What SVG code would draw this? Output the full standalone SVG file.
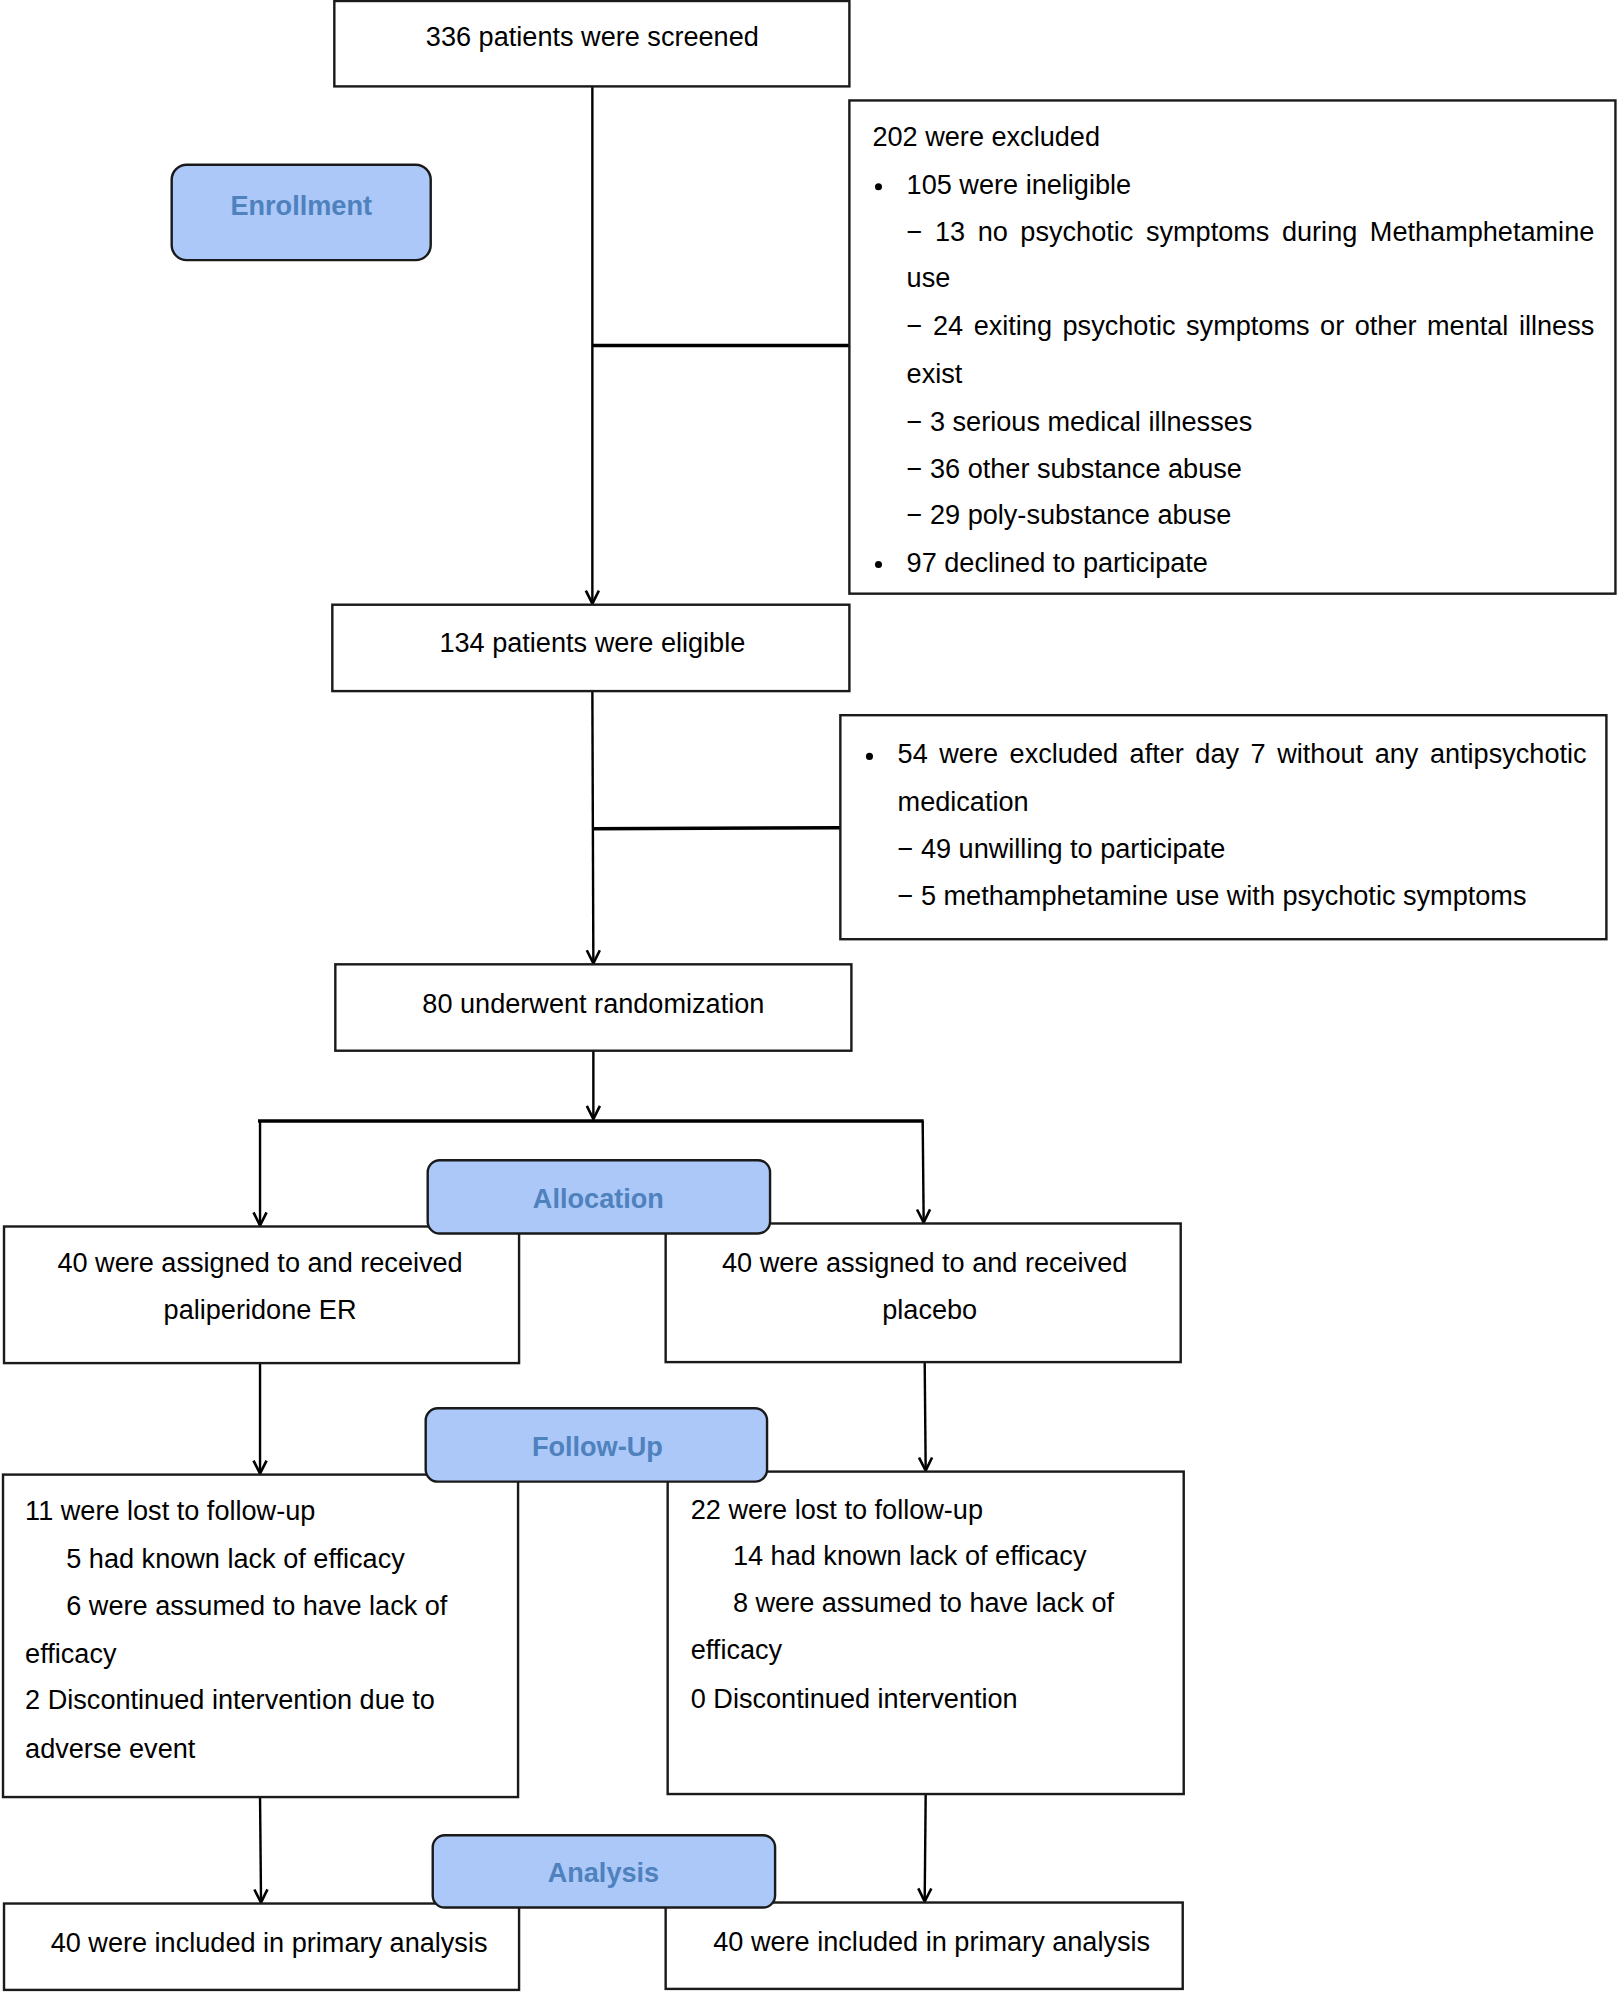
<svg xmlns="http://www.w3.org/2000/svg" width="1618" height="1992" viewBox="0 0 1618 1992">
<style>
.box{fill:#fff;stroke:#1a1a1a;stroke-width:2.4}
.lab{fill:#abc8f9;stroke:#1a1a1a;stroke-width:2.4}
.t{font-family:"Liberation Sans",Arial,sans-serif;font-size:27px;fill:#000}
.c{text-anchor:middle}
.lt{font-family:"Liberation Sans",Arial,sans-serif;font-size:27px;font-weight:bold;fill:#4f81bd;text-anchor:middle}
.ln{stroke:#000;stroke-width:2.4;fill:none}
.hl{stroke:#000;stroke-width:3.4;fill:none}
</style>
<defs>
<marker id="arr" markerUnits="userSpaceOnUse" viewBox="-16 -8 18 16" markerWidth="18" markerHeight="16" refX="0" refY="0" orient="auto">
<path d="M-13,-6.5 L0,0 L-13,6.5" fill="none" stroke="#000" stroke-width="2.6"/>
</marker>
</defs>
<rect width="1618" height="1992" fill="#fff"/>
<g transform="scale(1.004 1.0045)">
<g id="connectors">
<line class="ln" x1="590" y1="86" x2="590" y2="601" marker-end="url(#arr)"/>
<line class="hl" x1="590" y1="344" x2="846" y2="344"/>
<line class="ln" x1="590" y1="688" x2="591" y2="959" marker-end="url(#arr)"/>
<line class="hl" x1="590" y1="825" x2="837" y2="824"/>
<line class="ln" x1="591" y1="1046" x2="591" y2="1114" marker-end="url(#arr)"/>
<line class="hl" x1="257" y1="1116" x2="920" y2="1116"/>
<line class="ln" x1="259" y1="1116" x2="259" y2="1220" marker-end="url(#arr)"/>
<line class="ln" x1="919" y1="1116" x2="920" y2="1217" marker-end="url(#arr)"/>
<line class="ln" x1="259" y1="1357" x2="259" y2="1467" marker-end="url(#arr)"/>
<line class="ln" x1="921" y1="1356" x2="922" y2="1464" marker-end="url(#arr)"/>
<line class="ln" x1="259" y1="1789" x2="260" y2="1894" marker-end="url(#arr)"/>
<line class="ln" x1="922" y1="1786" x2="921" y2="1893" marker-end="url(#arr)"/>
</g>
<g id="screened">
<rect class="box" x="333" y="1" width="513" height="85"/>
<text class="t c" x="590" y="46">336 patients were screened</text>
</g>
<g id="enrollment">
<rect class="lab" x="171" y="164" width="258" height="95" rx="15"/>
<text class="lt" x="300" y="214">Enrollment</text>
</g>
<g id="excluded1">
<rect class="box" x="846" y="100" width="763" height="491"/>
<text class="t" x="869" y="145">202 were excluded</text>
<circle cx="875" cy="186" r="3.5"/>
<text class="t" x="903" y="193">105 were ineligible</text>
<text class="t" x="903" y="240" style="word-spacing:5px">− 13 no psychotic symptoms during Methamphetamine</text>
<text class="t" x="903" y="286">use</text>
<text class="t" x="903" y="334" style="word-spacing:3px">− 24 exiting psychotic symptoms or other mental illness</text>
<text class="t" x="903" y="381">exist</text>
<text class="t" x="903" y="429">− 3 serious medical illnesses</text>
<text class="t" x="903" y="476">− 36 other substance abuse</text>
<text class="t" x="903" y="522">− 29 poly-substance abuse</text>
<circle cx="875" cy="562" r="3.5"/>
<text class="t" x="903" y="569">97 declined to participate</text>
</g>
<g id="eligible">
<rect class="box" x="331" y="602" width="515" height="86"/>
<text class="t c" x="590" y="649">134 patients were eligible</text>
</g>
<g id="excluded2">
<rect class="box" x="837" y="712" width="763" height="223"/>
<circle cx="866" cy="753" r="3.5"/>
<text class="t" x="894" y="760" style="word-spacing:4px">54 were excluded after day 7 without any antipsychotic</text>
<text class="t" x="894" y="807">medication</text>
<text class="t" x="894" y="854">− 49 unwilling to participate</text>
<text class="t" x="894" y="901">− 5 methamphetamine use with psychotic symptoms</text>
</g>
<g id="randomization">
<rect class="box" x="334" y="960" width="514" height="86"/>
<text class="t c" x="591" y="1008">80 underwent randomization</text>
</g>
<g id="assigned-left">
<rect class="box" x="4" y="1221" width="513" height="136"/>
<text class="t c" x="259" y="1266">40 were assigned to and received</text>
<text class="t c" x="259" y="1313">paliperidone ER</text>
</g>
<g id="assigned-right">
<rect class="box" x="663" y="1218" width="513" height="138"/>
<text class="t c" x="921" y="1266">40 were assigned to and received</text>
<text class="t c" x="926" y="1313">placebo</text>
</g>
<g id="allocation">
<rect class="lab" x="426" y="1155" width="341" height="73" rx="12"/>
<text class="lt" x="596" y="1203">Allocation</text>
</g>
<g id="followup-left">
<rect class="box" x="3" y="1468" width="513" height="321"/>
<text class="t" x="25" y="1513">11 were lost to follow-up</text>
<text class="t" x="66" y="1561">5 had known lack of efficacy</text>
<text class="t" x="66" y="1608">6 were assumed to have lack of</text>
<text class="t" x="25" y="1656">efficacy</text>
<text class="t" x="25" y="1701">2 Discontinued intervention due to</text>
<text class="t" x="25" y="1750">adverse event</text>
</g>
<g id="followup-right">
<rect class="box" x="665" y="1465" width="514" height="321"/>
<text class="t" x="688" y="1512">22 were lost to follow-up</text>
<text class="t" x="730" y="1558">14 had known lack of efficacy</text>
<text class="t" x="730" y="1605">8 were assumed to have lack of</text>
<text class="t" x="688" y="1652">efficacy</text>
<text class="t" x="688" y="1700">0 Discontinued intervention</text>
</g>
<g id="followup">
<rect class="lab" x="424" y="1402" width="340" height="73" rx="12"/>
<text class="lt" x="595" y="1449">Follow-Up</text>
</g>
<g id="analysis-left">
<rect class="box" x="4" y="1895" width="513" height="86"/>
<text class="t c" x="268" y="1943">40 were included in primary analysis</text>
</g>
<g id="analysis-right">
<rect class="box" x="663" y="1894" width="515" height="86"/>
<text class="t c" x="928" y="1942">40 were included in primary analysis</text>
</g>
<g id="analysis">
<rect class="lab" x="431" y="1827" width="341" height="72" rx="12"/>
<text class="lt" x="601" y="1874">Analysis</text>
</g>
</g>
</svg>
